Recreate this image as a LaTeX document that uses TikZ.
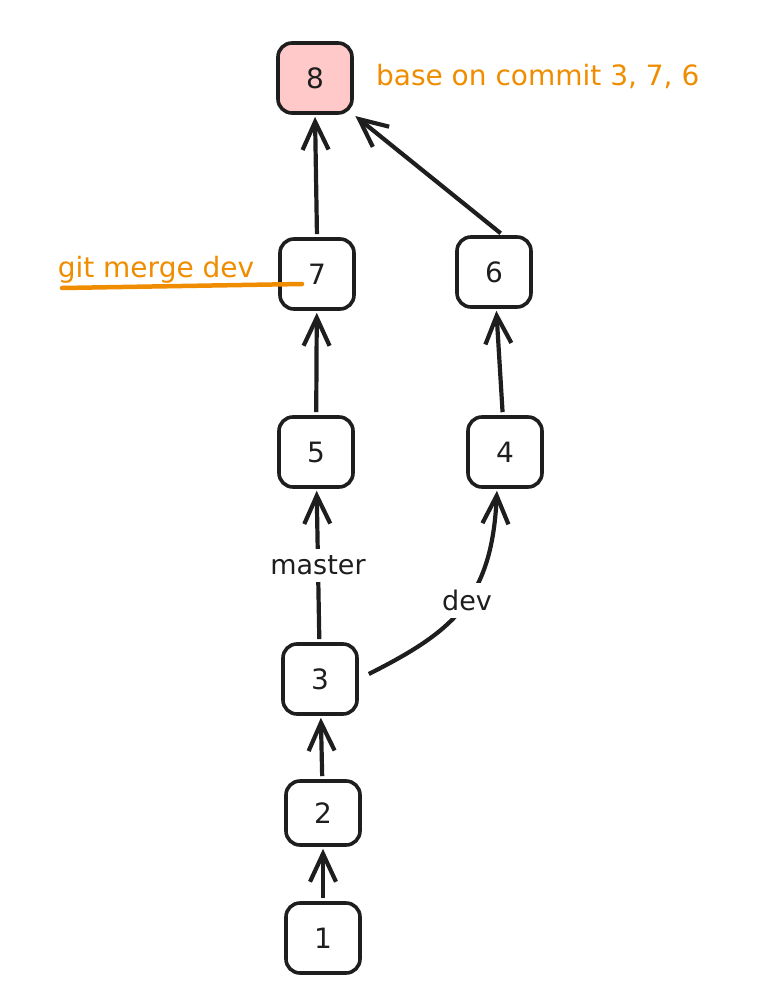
\documentclass[tikz,border=0pt]{standalone}
\usepackage{fontspec}
\setmainfont{DejaVu Sans}
\usetikzlibrary{arrows.meta}
\definecolor{ink}{HTML}{1E1E1E}
\definecolor{notecolor}{HTML}{F08C00}
\definecolor{headfill}{HTML}{FFC9C9}

\begin{document}
\begin{tikzpicture}[x=1pt,y=-1pt,->,>={Straight Barb[length=28pt,width=26pt]},
                    line width=4.2pt,color=ink,
                    commit node/.style={rectangle,rounded corners=14pt,draw=ink,line width=3.6pt,
                      minimum width=74pt,minimum height=70pt,inner sep=0pt,
                      font=\fontsize{28}{32}\selectfont},
                    note node/.style={text=notecolor,inner sep=0pt,font=\fontsize{28}{32}\selectfont},
                    branch node/.style={fill=white,inner sep=7pt,font=\fontsize{27}{30}\selectfont}]
  \useasboundingbox (0,0) rectangle (771,1008);

  \node[commit node,fill=headfill] (8) at (315,78) {8};
  \node[commit node] (7) at (317,274) {7};
  \node[commit node] (6) at (494,272) {6};
  \node[commit node] (5) at (316,452) {5};
  \node[commit node] (4) at (505,452) {4};
  \node[commit node] (3) at (320,679) {3};
  \node[commit node,minimum height=64pt] (2) at (323,813) {2};
  \node[commit node] (1) at (323,938) {1};

  \node[note node,anchor=west] (base) at (374,76) {base on commit 3, 7, 6};
  \node[note node] (merge) at (156,270) {git merge dev};
  \coordinate (merge line start) at (62,288);
  \coordinate (merge line end) at (302,284);

  \path[shorten <=3pt,shorten >=2pt]
    (1) edge (2)
    (2) edge (3)
    (3) edge node[branch node] {master} (5)
    (5) edge (7)
    (4) edge (6)
    (7.north) edge (8.south)
    ([xshift=9pt]6.north) edge (8.south east)
;
  \draw[shorten >=2pt] ([xshift=10pt,yshift=5pt]3.east) .. controls (452,632) and (492,600) ..
    node[branch node,pos=0.54] {dev} ([xshift=-8pt]4.south);

  \draw[-,notecolor,line width=4.5pt,line cap=round] (merge line start) -- (merge line end);
\end{tikzpicture}
\end{document}
